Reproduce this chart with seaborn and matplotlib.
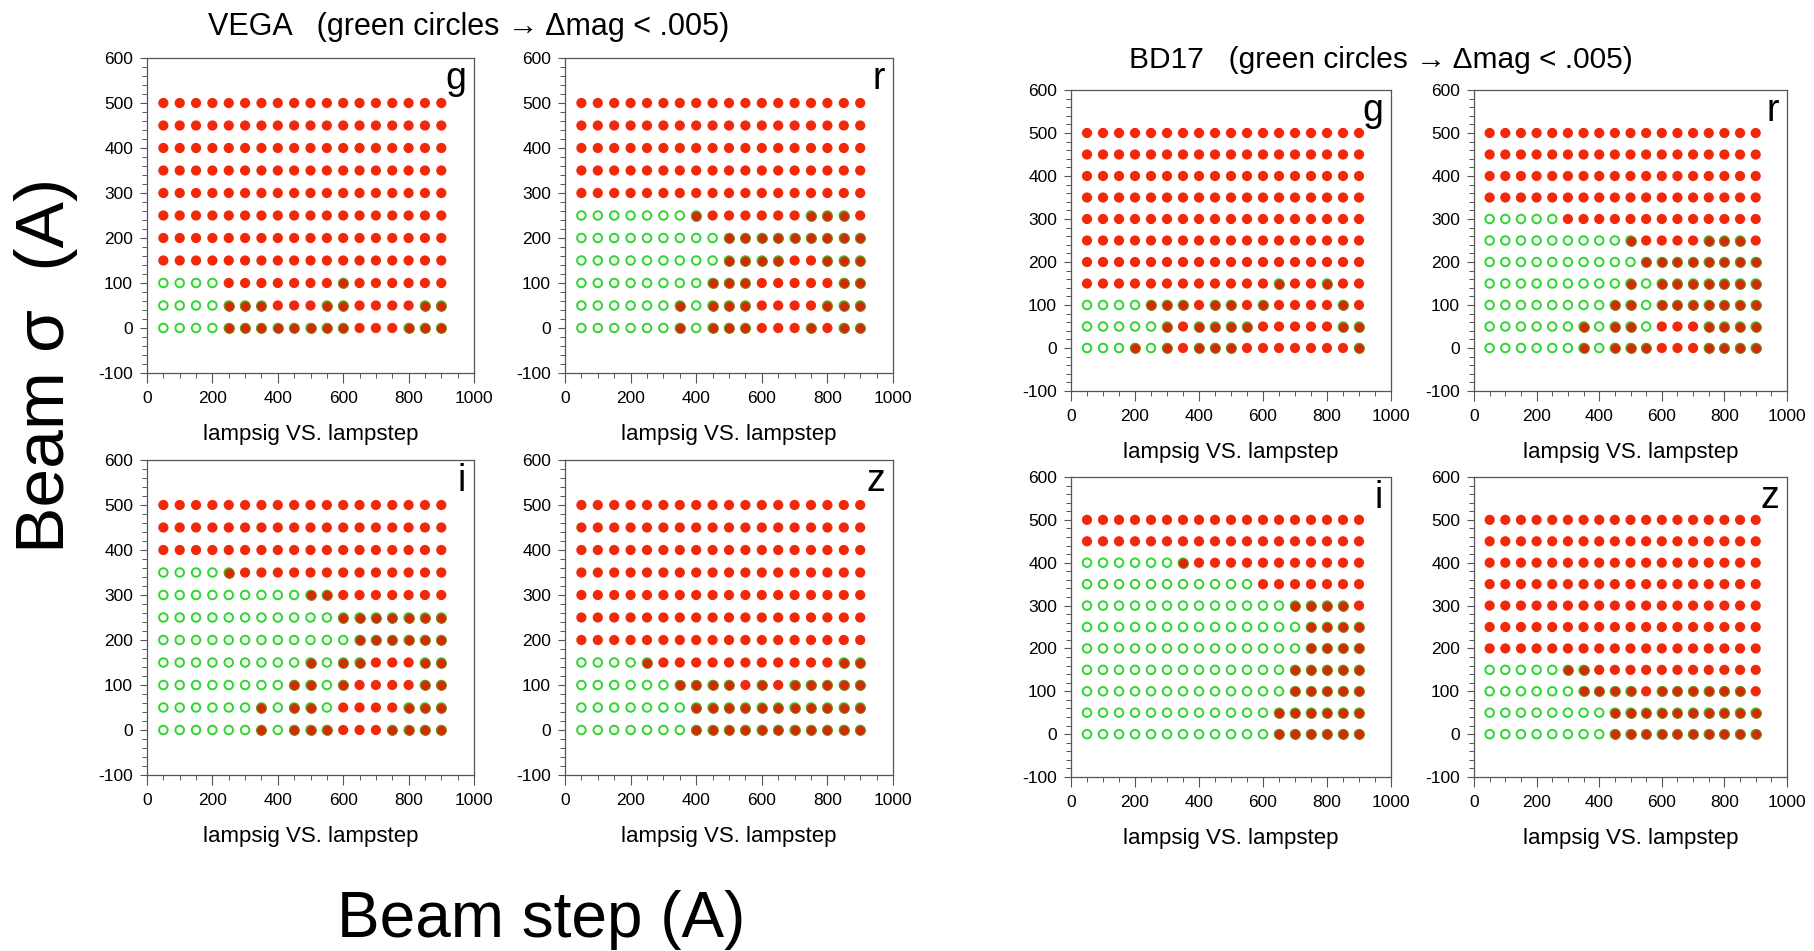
import numpy as np
import pandas as pd
import matplotlib
matplotlib.use("Agg")
import matplotlib.pyplot as plt
from matplotlib.ticker import MultipleLocator
import seaborn as sns

# ── data ────────────────────────────────────────────────────
# grid of lamp step (x) and lamp sigma (y) values
LAMPSTEP = [50, 100, 150, 200, 250, 300, 350, 400, 450,
            500, 550, 600, 650, 700, 750, 800, 850, 900]
LAMPSIG = [500, 450, 400, 350, 300, 250, 200, 150, 100, 50, 0]

# R = red dot only, G = green circle only (dmag < .005), B = both
VEGA_G = [
    "RRRRRR RRRRRR RRRRRR", "RRRRRR RRRRRR RRRRRR", "RRRRRR RRRRRR RRRRRR",
    "RRRRRR RRRRRR RRRRRR", "RRRRRR RRRRRR RRRRRR", "RRRRRR RRRRRR RRRRRR",
    "RRRRRR RRRRRR RRRRRR", "RRRRRR RRRRRR RRRRRR",
    "GGGGRR RRRRRB RRRRRR", "GGGGBB BRRRBB RRRRBB", "GGGGBB BBBBBB RRRBBB",
]
VEGA_R = [
    "RRRRRR RRRRRR RRRRRR", "RRRRRR RRRRRR RRRRRR", "RRRRRR RRRRRR RRRRRR",
    "RRRRRR RRRRRR RRRRRR", "RRRRRR RRRRRR RRRRRR",
    "GGGGGG GBRRRR RRBBBR", "GGGGGG GGGBBB BBBBBB", "GGGGGG GGGBBB BRRBBB",
    "GGGGGG GGBBBR RRRRBB", "GGGGGG BGBBBR RRRBBB", "GGGGGG BGBBBR RRBRBB",
]
VEGA_I = [
    "RRRRRR RRRRRR RRRRRR", "RRRRRR RRRRRR RRRRRR", "RRRRRR RRRRRR RRRRRR",
    "GGGGBR RRRRRR RRRRRR", "GGGGGG GGGBBR RRRRRR", "GGGGGG GGGGGB BBBBBB",
    "GGGGGG GGGGGG BBBBBB", "GGGGGG GGGBGB BRRRBB", "GGGGGG GGBBGB RRRRBB",
    "GGGGGG BGBBGR RRRBBB", "GGGGGG BGBBBR RRBBBB",
]
VEGA_Z = [
    "RRRRRR RRRRRR RRRRRR", "RRRRRR RRRRRR RRRRRR", "RRRRRR RRRRRR RRRRRR",
    "RRRRRR RRRRRR RRRRRR", "RRRRRR RRRRRR RRRRRR", "RRRRRR RRRRRR RRRRRR",
    "RRRRRR RRRRRR RRRRRR",
    "GGGGBR RRRRRR RRRRBB", "GGGGGG BBBBRB RBBBBB", "GGGGGG GBBBBB BBBBBB",
    "GGGGGG GBBBBB BBBBBB",
]
BD17_G = [
    "RRRRRR RRRRRR RRRRRR", "RRRRRR RRRRRR RRRRRR", "RRRRRR RRRRRR RRRRRR",
    "RRRRRR RRRRRR RRRRRR", "RRRRRR RRRRRR RRRRRR", "RRRRRR RRRRRR RRRRRR",
    "RRRRRR RRRRRR RRRRRR",
    "RRRRRR RRRRRR BRRBRR", "GGGGBB BRBBRB RRRRBR", "GGGGGB RBBBBR RRRRBB",
    "GGGBGB RBBBRR RRRRRB",
]
BD17_R = [
    "RRRRRR RRRRRR RRRRRR", "RRRRRR RRRRRR RRRRRR", "RRRRRR RRRRRR RRRRRR",
    "RRRRRR RRRRRR RRRRRR",
    "GGGGGR RRRRRR RRRRRR", "GGGGGG GGGBRR RRBBBR", "GGGGGG GGGGBB BBBBBB",
    "GGGGGG GGGBGB BBBBBB", "GGGGGG GGBBGB BBBBBB", "GGGGGG BGBBGR RRBBBB",
    "GGGGGG BGBBBR RRBBBB",
]
BD17_I = [
    "RRRRRR RRRRRR RRRRRR", "RRRRRR RRRRRR RRRRRR",
    "GGGGGG BRRRRR RRRRRR", "GGGGGG GGGGGR RRRRRR", "GGGGGG GGGGGG GBBBBR",
    "GGGGGG GGGGGG GGBBBB", "GGGGGG GGGGGG GGBBBB", "GGGGGG GGGGGG GBBBBB",
    "GGGGGG GGGGGG GBBBBB", "GGGGGG GGGGGG BBBBBB", "GGGGGG GGGGGG BBBBBB",
]
BD17_Z = [
    "RRRRRR RRRRRR RRRRRR", "RRRRRR RRRRRR RRRRRR", "RRRRRR RRRRRR RRRRRR",
    "RRRRRR RRRRRR RRRRRR", "RRRRRR RRRRRR RRRRRR", "RRRRRR RRRRRR RRRRRR",
    "RRRRRR RRRRRR RRRRRR",
    "GGGGGB BRRRRR RRRRRR", "GGGGGG BBBBRB BBBBBR", "GGGGGG GGBBBB BBBBBB",
    "GGGGGG GGBBBB BBBBBB",
]

FILTERS = ["g", "r", "i", "z"]


def to_frame(rows):
    recs = []
    for sig, row in zip(LAMPSIG, rows):
        row = row.replace(" ", "")
        assert len(row) == len(LAMPSTEP)
        for step, code in zip(LAMPSTEP, row):
            recs.append({"lampstep": step, "lampsig": sig, "code": code})
    return pd.DataFrame(recs)


# ── style ───────────────────────────────────────────────────
sns.set_style("ticks")
plt.rcParams["font.family"] = ["Liberation Sans", "DejaVu Sans"]
plt.rcParams["axes.edgecolor"] = "#555555"
plt.rcParams["axes.linewidth"] = 0.9
plt.rcParams["axes.unicode_minus"] = False
plt.rcParams["text.color"] = "black"
plt.rcParams["axes.labelcolor"] = "black"

RED = "#f2280a"
BOTH = "#d42a04"
GREEN = "#2fd62f"

W, H = 1814, 951
fig = plt.figure(figsize=(W / 100, H / 100), dpi=100)


def add_ax(l, t, w, h):
    return fig.add_axes([l / W, 1 - (t + h) / H, w / W, h / H])


def draw_panel(ax, rows, label):
    df = to_frame(rows)
    green = df[df["code"].isin(["G", "B"])]
    red = df[df["code"] == "R"]
    both = df[df["code"] == "B"]
    sns.scatterplot(data=green, x="lampstep", y="lampsig", ax=ax, marker="o",
                    s=38, color=GREEN, facecolor="none", edgecolor=GREEN,
                    linewidth=1.4, zorder=2)
    sns.scatterplot(data=red, x="lampstep", y="lampsig", ax=ax, marker="o",
                    s=54, color=RED, edgecolor="none", linewidth=0, zorder=3)
    sns.scatterplot(data=both, x="lampstep", y="lampsig", ax=ax, marker="o",
                    s=50, color=BOTH, edgecolor="#7d8a1c", linewidth=0.7,
                    zorder=4)
    ax.set_xlim(0, 1000)
    ax.set_ylim(-100, 600)
    ax.xaxis.set_major_locator(MultipleLocator(200))
    ax.xaxis.set_minor_locator(MultipleLocator(50))
    ax.yaxis.set_major_locator(MultipleLocator(100))
    ax.yaxis.set_minor_locator(MultipleLocator(20))
    ax.tick_params(which="major", direction="out", length=7, width=0.8,
                   color="#555555", labelcolor="black", labelsize=12.5, pad=6)
    ax.tick_params(which="minor", direction="out", length=3.5, width=0.7,
                   color="#555555")
    ax.tick_params(axis="y", which="major", length=5, pad=5)
    ax.set_xlabel("lampsig VS. lampstep", fontsize=16, labelpad=13)
    ax.set_ylabel("")
    for sp in ax.spines.values():
        sp.set_visible(True)
    ax.text(0.975, 0.99, label, transform=ax.transAxes, ha="right",
            va="top", fontsize=27)


# VEGA block (left)
vega = [VEGA_G, VEGA_R, VEGA_I, VEGA_Z]
vega_pos = [(147, 58, 327, 315), (565, 58, 328, 315),
            (147, 460, 327, 315), (565, 460, 328, 315)]
for rows, pos, lab in zip(vega, vega_pos, FILTERS):
    draw_panel(add_ax(*pos), rows, lab)

# BD17 block (right)
bd17 = [BD17_G, BD17_R, BD17_I, BD17_Z]
bd17_pos = [(1071, 90, 320, 301), (1474, 90, 313, 301),
            (1071, 477, 320, 300), (1474, 477, 313, 300)]
for rows, pos, lab in zip(bd17, bd17_pos, FILTERS):
    draw_panel(add_ax(*pos), rows, lab)

fig.text(469 / W, 1 - 27 / H, "VEGA   (green circles \u2192 \u0394mag < .005)",
         ha="center", va="center", fontsize=22)
fig.text(1381 / W, 1 - 60 / H, "BD17   (green circles \u2192 \u0394mag < .005)",
         ha="center", va="center", fontsize=21.5)

fig.text(46 / W, 1 - 365 / H, "Beam \u03c3  (A)", rotation=90,
         ha="center", va="center", fontsize=50)
fig.text(541 / W, 1 - 920 / H, "Beam step (A)", ha="center", va="center",
         fontsize=46)

fig.savefig("out.png", dpi=100, facecolor="white")
